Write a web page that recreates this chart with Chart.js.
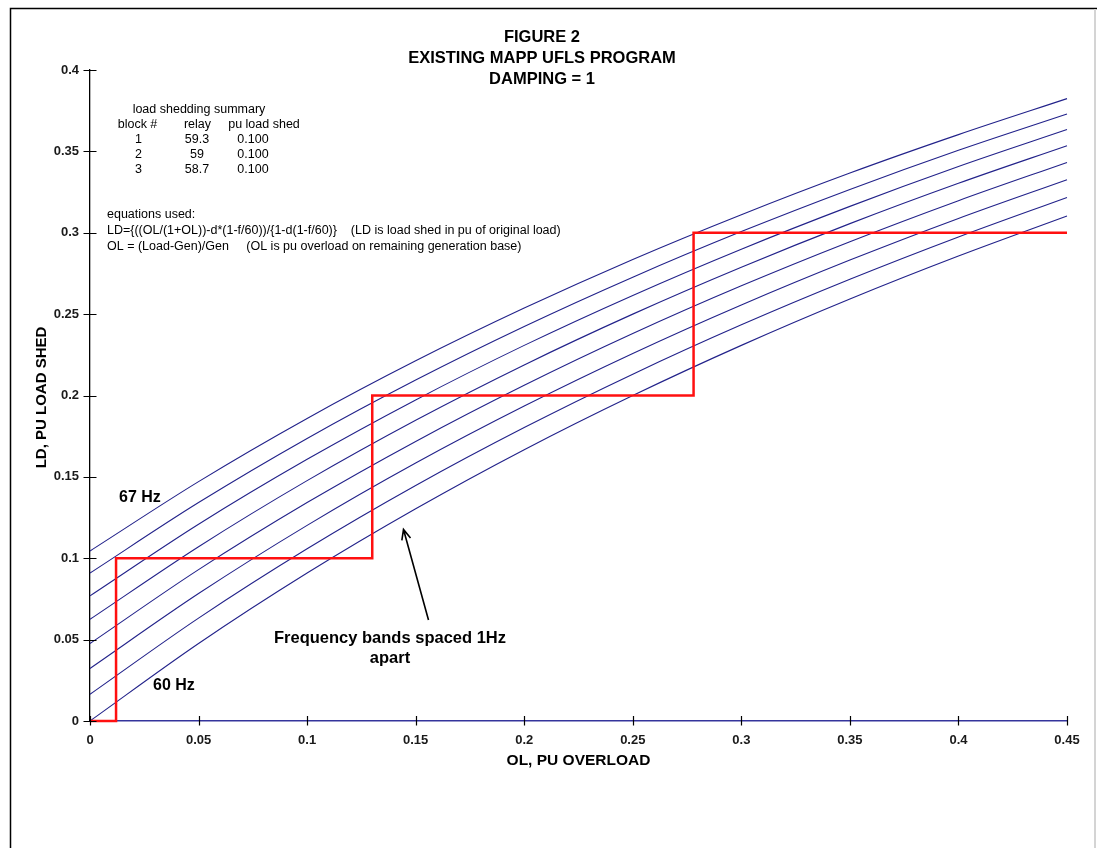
<!DOCTYPE html>
<html>
<head>
<meta charset="utf-8">
<title>Figure 2 - Existing MAPP UFLS Program</title>
<script src="https://cdn.jsdelivr.net/npm/chart.js@4.4.1/dist/chart.umd.min.js"></script>
<style>
  html, body { margin: 0; padding: 0; background: #ffffff; }
  #wrap { width: 1097px; height: 848px; position: relative; }
  canvas { display: block; }
</style>
</head>
<body>
<div id="wrap"><canvas id="ufls" width="1097" height="848"></canvas></div>
<script>
// Overload (OL, pu) sample points shared by every frequency band
const olValues = [0, 0.05, 0.1, 0.15, 0.2, 0.25, 0.3, 0.35, 0.4, 0.45];

// Load shed (LD, pu) for each frequency band, 60 Hz up to 67 Hz
const ld60 = [0.0000, 0.0476, 0.0909, 0.1304, 0.1667, 0.2000, 0.2308, 0.2593, 0.2857, 0.3103];
const ld61 = [0.0164, 0.0632, 0.1058, 0.1447, 0.1803, 0.2131, 0.2434, 0.2714, 0.2974, 0.3217];
const ld62 = [0.0323, 0.0783, 0.1202, 0.1585, 0.1935, 0.2258, 0.2556, 0.2832, 0.3088, 0.3326];
const ld63 = [0.0476, 0.0930, 0.1342, 0.1718, 0.2063, 0.2381, 0.2674, 0.2945, 0.3197, 0.3432];
const ld64 = [0.0625, 0.1071, 0.1477, 0.1848, 0.2188, 0.2500, 0.2788, 0.3056, 0.3304, 0.3535];
const ld65 = [0.0769, 0.1209, 0.1608, 0.1973, 0.2308, 0.2615, 0.2899, 0.3162, 0.3407, 0.3634];
const ld66 = [0.0909, 0.1342, 0.1736, 0.2095, 0.2424, 0.2727, 0.3007, 0.3266, 0.3507, 0.3730];
const ld67 = [0.1045, 0.1471, 0.1859, 0.2213, 0.2537, 0.2836, 0.3111, 0.3367, 0.3603, 0.3824];
const bandNames = ['60 Hz', '61 Hz', '62 Hz', '63 Hz', '64 Hz', '65 Hz', '66 Hz', '67 Hz'];

// Cumulative load shedding program (step line): overload where each block trips
const shedOL = [0, 0.012, 0.13, 0.278, 0.45];
const shedLD = [0, 0.1, 0.2, 0.3, 0.3];

// Load shedding summary table
const blockNums = ['1', '2', '3'];
const relaySettings = ['59.3', '59', '58.7'];
const puLoadShed = ['0.100', '0.100', '0.100'];

// Axis tick labels
const xTickLabels = ['0', '0.05', '0.1', '0.15', '0.2', '0.25', '0.3', '0.35', '0.4', '0.45'];
const yTickLabels = ['0', '0.05', '0.1', '0.15', '0.2', '0.25', '0.3', '0.35', '0.4'];

const FONT = '"Liberation Sans", Arial, Helvetica, sans-serif';
const CURVE_COLOR = '#22228a';

const bandSeries = [ld60, ld61, ld62, ld63, ld64, ld65, ld66, ld67];
const bandDatasets = bandSeries.map((ys, i) => ({
  label: bandNames[i],
  data: olValues.map((x, j) => ({ x: x, y: ys[j] })),
  borderColor: CURVE_COLOR,
  borderWidth: 1.1,
  pointRadius: 0,
  cubicInterpolationMode: 'monotone',
  fill: false,
  clip: false,
  order: 2
}));

const shedDataset = {
  label: 'Load shed program',
  data: shedOL.map((x, j) => ({ x: x, y: shedLD[j] })),
  borderColor: '#ff1010',
  borderWidth: 2.5,
  pointRadius: 0,
  stepped: 'before',
  fill: false,
  clip: false,
  order: 1
};

// White page with the thin frame around the figure
const pageFrame = {
  id: 'pageFrame',
  beforeDraw(chart) {
    const ctx = chart.ctx;
    ctx.save();
    ctx.fillStyle = '#ffffff';
    ctx.fillRect(0, 0, chart.width, chart.height);
    ctx.strokeStyle = '#000000';
    ctx.lineWidth = 1.5;
    ctx.beginPath();
    ctx.moveTo(10.5, chart.height);
    ctx.lineTo(10.5, 8.5);
    ctx.lineTo(chart.width, 8.5);
    ctx.stroke();
    ctx.strokeStyle = '#d4d4d4';
    ctx.lineWidth = 2;
    ctx.beginPath();
    ctx.moveTo(1095, 9);
    ctx.lineTo(1095, chart.height);
    ctx.stroke();
    ctx.restore();
  }
};

// Tick marks crossing the axes, titles, summary table, equations and notes
const figureText = {
  id: 'figureText',
  afterDraw(chart) {
    const ctx = chart.ctx;
    const xs = chart.scales.x;
    const ys = chart.scales.y;
    const area = chart.chartArea;
    ctx.save();

    // tick marks
    ctx.strokeStyle = '#000000';
    ctx.lineWidth = 1.2;
    ctx.beginPath();
    xs.ticks.forEach((t, i) => {
      const px = Math.round(xs.getPixelForTick(i)) + 0.5;
      ctx.moveTo(px, area.bottom - 5);
      ctx.lineTo(px, area.bottom + 4.5);
    });
    ys.ticks.forEach((t, i) => {
      const py = Math.round(ys.getPixelForTick(i)) + 0.5;
      ctx.moveTo(area.left - 6.5, py);
      ctx.lineTo(area.left + 6.5, py);
    });
    ctx.stroke();

    ctx.fillStyle = '#000000';
    ctx.textBaseline = 'middle';

    // figure title
    ctx.textAlign = 'center';
    ctx.font = 'bold 16.5px ' + FONT;
    ctx.fillText('FIGURE 2', 542, 37.5);
    ctx.fillText('EXISTING MAPP UFLS PROGRAM', 542, 58.5);
    ctx.fillText('DAMPING = 1', 542, 79);

    // axis titles
    ctx.font = 'bold 15.5px ' + FONT;
    ctx.fillText('OL, PU OVERLOAD', (area.left + area.right) / 2, 761);
    ctx.save();
    ctx.translate(42, (area.top + area.bottom) / 2 + 2);
    ctx.rotate(-Math.PI / 2);
    ctx.font = 'bold 15px ' + FONT;
    ctx.fillText('LD, PU LOAD SHED', 0, 0);
    ctx.restore();

    // load shedding summary
    ctx.font = '12.5px ' + FONT;
    ctx.fillText('load shedding summary', 199, 110);
    ctx.fillText('block #', 137.5, 125);
    ctx.fillText('relay', 197.5, 125);
    ctx.fillText('pu load shed', 264, 125);
    blockNums.forEach((b, i) => {
      const y = 140 + i * 15;
      ctx.fillText(b, 138.5, y);
      ctx.fillText(relaySettings[i], 197, y);
      ctx.fillText(puLoadShed[i], 253, y);
    });

    // equations used
    ctx.textAlign = 'left';
    const eqX = 107;
    ctx.fillText('equations used:', eqX, 215);
    const ldEq = 'LD={((OL/(1+OL))-d*(1-f/60))/{1-d(1-f/60)}';
    ctx.fillText(ldEq, eqX, 231);
    ctx.fillText('(LD is load shed in pu of original load)',
      eqX + ctx.measureText(ldEq).width + ctx.measureText('    ').width, 231);
    const olEq = 'OL = (Load-Gen)/Gen';
    ctx.fillText(olEq, eqX, 246.5);
    ctx.fillText('(OL is pu overload on remaining generation base)',
      eqX + ctx.measureText(olEq).width + ctx.measureText('     ').width, 246.5);

    // band labels
    ctx.font = 'bold 16px ' + FONT;
    ctx.fillText('67 Hz', 119, 497.5);
    ctx.fillText('60 Hz', 153, 686);

    // note with arrow
    ctx.textAlign = 'center';
    ctx.font = 'bold 16.5px ' + FONT;
    ctx.fillText('Frequency bands spaced 1Hz', 390, 638);
    ctx.fillText('apart', 390, 658);

    const tail = { x: 428.5, y: 620 };
    const tip = { x: 403.5, y: 529.5 };
    const ang = Math.atan2(tip.y - tail.y, tip.x - tail.x);
    const head = 11, spread = 0.42;
    ctx.strokeStyle = '#000000';
    ctx.lineWidth = 1.6;
    ctx.beginPath();
    ctx.moveTo(tail.x, tail.y);
    ctx.lineTo(tip.x, tip.y);
    ctx.moveTo(tip.x - head * Math.cos(ang - spread), tip.y - head * Math.sin(ang - spread));
    ctx.lineTo(tip.x, tip.y);
    ctx.lineTo(tip.x - head * Math.cos(ang + spread), tip.y - head * Math.sin(ang + spread));
    ctx.stroke();

    ctx.restore();
  }
};

const tickFont = { family: FONT, size: 13, weight: 'bold' };

new Chart(document.getElementById('ufls'), {
  type: 'line',
  data: { datasets: bandDatasets.concat([shedDataset]) },
  options: {
    responsive: false,
    animation: false,
    events: [],
    layout: { padding: { left: 0, right: 30, top: 70, bottom: 87 } },
    plugins: {
      legend: { display: false },
      tooltip: { enabled: false },
      title: { display: false }
    },
    scales: {
      x: {
        type: 'linear',
        min: 0,
        max: 0.45,
        afterFit(scale) { scale.height = 40; },
        grid: { display: false, drawTicks: true, tickLength: 5 },
        border: { display: true, color: '#34349c', width: 1.6 },
        ticks: {
          stepSize: 0.05,
          autoSkip: false,
          maxRotation: 0,
          padding: 7,
          color: '#1a1a1a',
          font: tickFont,
          callback: (v, i) => xTickLabels[i]
        }
      },
      y: {
        type: 'linear',
        min: 0,
        max: 0.4,
        afterFit(scale) { scale.width = 90; },
        grid: { display: false, drawTicks: true, tickLength: 6 },
        border: { display: true, color: '#000000', width: 1.3 },
        ticks: {
          stepSize: 0.05,
          autoSkip: false,
          padding: 5,
          color: '#1a1a1a',
          font: tickFont,
          callback: (v, i) => yTickLabels[i]
        }
      }
    }
  },
  plugins: [pageFrame, figureText]
});
</script>
</body>
</html>
